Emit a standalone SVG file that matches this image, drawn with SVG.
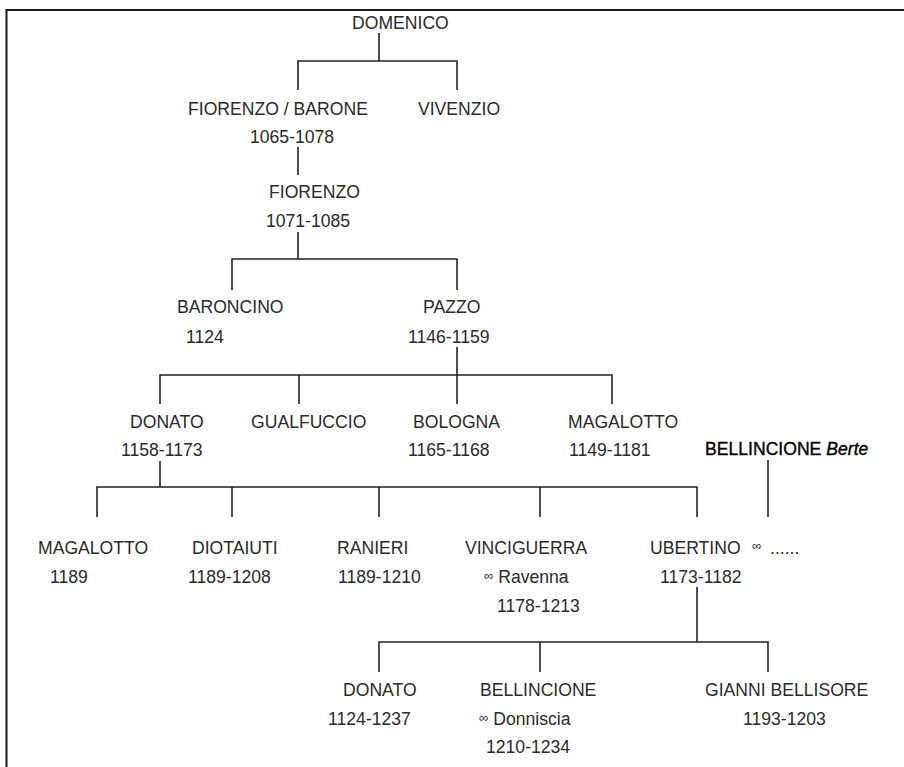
<svg xmlns="http://www.w3.org/2000/svg" width="904" height="767" viewBox="0 0 904 767">
<style>
text{font-family:"Liberation Sans",Arial,sans-serif;font-size:17.6px;fill:#2a2a2a}
.inf{font-size:13px}
.bold{fill:#000;stroke:#000;stroke-width:0.35}
.ln{stroke:#222;stroke-width:1.6;fill:none}
.frame{stroke:#1a1a1a;stroke-width:2;fill:none}
</style>
<rect width="904" height="767" fill="#fff"/>
<path class="frame" d="M6.5,767 V10 H904"/>
<g id="connectors">
<path class="ln" d="M379,33 V61 M298,90 V61 H457 V90"/>
<path class="ln" d="M298,147 V175"/>
<path class="ln" d="M298,232 V259 M232,290 V259 H457 V290"/>
<path class="ln" d="M457,347 V375 M160,404 V375 H612 V404 M299,375 V404 M457,375 V404"/>
<path class="ln" d="M160,461 V487 M97,517 V487 H697 V517 M232,487 V517 M379,487 V517 M540,487 V517"/>
<path class="ln" d="M768,460 V517"/>
<path class="ln" d="M697,587 V642 M379,672 V642 H768 V672 M540,642 V672"/>
</g>
<g id="domenico"><text x="352" y="29">DOMENICO</text></g>
<g id="fiorenzo-barone"><text x="188" y="115">FIORENZO / BARONE</text><text x="250" y="143">1065-1078</text></g>
<g id="vivenzio"><text x="418" y="115">VIVENZIO</text></g>
<g id="fiorenzo"><text x="269" y="198">FIORENZO</text><text x="266" y="227">1071-1085</text></g>
<g id="baroncino"><text x="177" y="313">BARONCINO</text><text x="186" y="343">1124</text></g>
<g id="pazzo"><text x="423" y="313">PAZZO</text><text x="408" y="343">1146-1159</text></g>
<g id="donato1"><text x="130" y="428">DONATO</text><text x="121" y="456">1158-1173</text></g>
<g id="gualfuccio"><text x="251" y="428">GUALFUCCIO</text></g>
<g id="bologna"><text x="413" y="428">BOLOGNA</text><text x="408" y="456">1165-1168</text></g>
<g id="magalotto1"><text x="568" y="428">MAGALOTTO</text><text x="569" y="456">1149-1181</text></g>
<g id="bellincione-berte"><text x="705" y="455"><tspan class="bold">BELLINCIONE</tspan> <tspan class="bold" font-style="italic">Berte</tspan></text></g>
<g id="magalotto2"><text x="38" y="554">MAGALOTTO</text><text x="50" y="583">1189</text></g>
<g id="diotaiuti"><text x="192" y="554">DIOTAIUTI</text><text x="188" y="583">1189-1208</text></g>
<g id="ranieri"><text x="337" y="554">RANIERI</text><text x="338" y="583">1189-1210</text></g>
<g id="vinciguerra"><text x="465" y="554">VINCIGUERRA</text><text x="484" y="583"><tspan class="inf" dy="-3">∞</tspan><tspan dy="3"> Ravenna</tspan></text><text x="497" y="612">1178-1213</text></g>
<g id="ubertino"><text x="650" y="554">UBERTINO</text><text x="752" y="550" class="inf">∞</text><text x="770" y="554">......</text><text x="660" y="583">1173-1182</text></g>
<g id="donato2"><text x="343" y="696">DONATO</text><text x="328" y="725">1124-1237</text></g>
<g id="bellincione"><text x="480" y="696">BELLINCIONE</text><text x="479" y="725"><tspan class="inf" dy="-3">∞</tspan><tspan dy="3">  Donniscia</tspan></text><text x="486" y="753">1210-1234</text></g>
<g id="gianni"><text x="705" y="696">GIANNI BELLISORE</text><text x="743" y="725">1193-1203</text></g>
</svg>
